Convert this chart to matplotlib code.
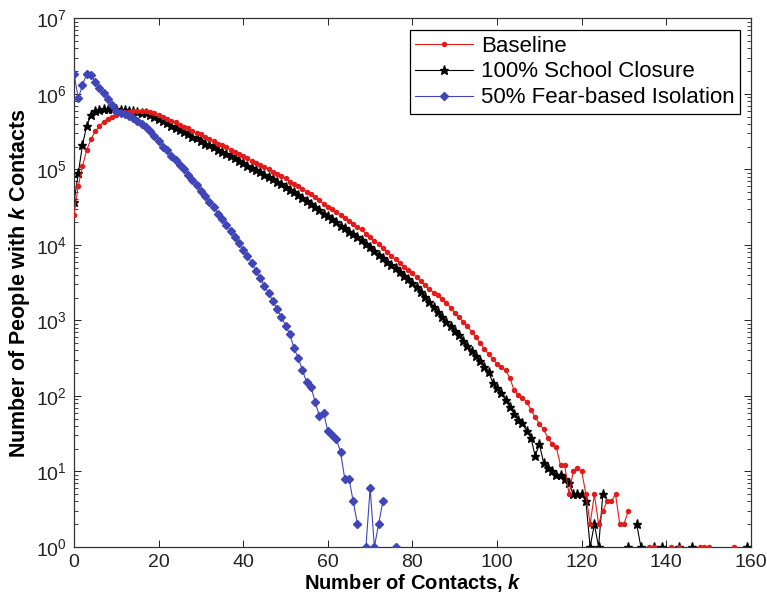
import numpy as np
import matplotlib
matplotlib.use("Agg")
import matplotlib.pyplot as plt
from matplotlib.ticker import LogLocator, NullFormatter

plt.rcParams['font.family'] = ['Liberation Sans', 'DejaVu Sans']
plt.rcParams['mathtext.fontset'] = 'custom'
plt.rcParams['mathtext.rm'] = 'Liberation Sans'
plt.rcParams['mathtext.it'] = 'Liberation Sans:italic:bold'
plt.rcParams['mathtext.bf'] = 'Liberation Sans:bold'

# ---- data: number of people with k contacts (0 = nobody, not drawn on log axis)
baseline_k = list(range(0, 157))
baseline = [
    2.5e4, 6.0e4, 1.1e5, 1.8e5, 2.5e5, 3.2e5, 3.7e5, 4.3e5, 4.7e5, 5.0e5,
    5.2e5, 5.5e5, 5.7e5, 5.8e5, 5.9e5, 6.0e5, 6.0e5, 5.9e5, 5.75e5, 5.5e5,
    5.25e5, 4.9e5, 4.7e5, 4.4e5, 4.2e5, 3.9e5, 3.6e5, 3.5e5, 3.2e5, 3.0e5,
    2.9e5, 2.7e5, 2.5e5, 2.4e5, 2.2e5, 2.1e5, 1.95e5, 1.8e5, 1.7e5, 1.6e5,
    1.5e5, 1.4e5, 1.3e5, 1.23e5, 1.15e5, 1.07e5, 1.0e5, 9.3e4, 8.7e4, 8.1e4,
    7.6e4, 6.9e4, 6.5e4, 6.0e4, 5.5e4, 5.0e4, 4.7e4, 4.3e4, 3.9e4, 3.5e4,
    3.2e4, 3.0e4, 2.75e4, 2.5e4, 2.3e4, 2.1e4, 1.9e4, 1.74e4, 1.6e4, 1.4e4,
    1.26e4, 1.12e4, 1.02e4, 9100, 8100, 7200, 6500, 5800, 5100, 4600,
    4200, 3700, 3300, 2950, 2630, 2340, 2140, 1900, 1700, 1480,
    1260, 1100, 955, 832, 708, 603, 501, 417, 355, 309,
    263, 240, 219, 174, 120, 102, 95, 83, 66, 52,
    43, 36, 28, 23, 21, 12, 12, 5, 10, 11,
    10, 5, 2, 5, 2, 3, 4, 4, 5, 2,
    2, 3, 0, 0, 0, 0, 1, 1, 0, 0,
    0, 1, 0, 1, 0, 0, 0, 0, 1, 1,
    1, 0, 0, 0, 0, 0, 1,
]

school_k = list(range(0, 160))
school = [
    3.7e4, 8.9e4, 2.1e5, 3.8e5, 5.2e5, 5.9e5, 6.2e5, 6.3e5, 6.3e5, 6.3e5,
    6.3e5, 6.2e5, 6.2e5, 6.0e5, 5.9e5, 5.75e5, 5.6e5, 5.5e5, 5.25e5, 5.0e5,
    4.7e5, 4.4e5, 4.1e5, 3.8e5, 3.55e5, 3.3e5, 3.1e5, 2.9e5, 2.7e5, 2.6e5,
    2.4e5, 2.2e5, 2.1e5, 1.95e5, 1.8e5, 1.7e5, 1.6e5, 1.5e5, 1.4e5, 1.3e5,
    1.2e5, 1.12e5, 1.05e5, 9.8e4, 9.1e4, 8.5e4, 7.9e4, 7.4e4, 6.9e4, 6.5e4,
    5.9e4, 5.4e4, 5.0e4, 4.6e4, 4.2e4, 3.8e4, 3.5e4, 3.2e4, 2.9e4, 2.6e4,
    2.4e4, 2.2e4, 2.0e4, 1.8e4, 1.66e4, 1.5e4, 1.38e4, 1.26e4, 1.15e4, 1.02e4,
    9300, 8300, 7400, 6800, 6000, 5400, 4900, 4400, 3900, 3500,
    3100, 2750, 2400, 2040, 1740, 1510, 1290, 1120, 955, 832,
    724, 631, 537, 457, 398, 339, 288, 245, 209, 148,
    126, 110, 89, 71, 58, 48, 44, 34, 28, 16,
    23, 13, 11, 10, 9, 9, 8, 7, 5, 5,
    5, 4, 1, 2, 1, 5, 0, 0, 0, 0,
    0, 1, 0, 2, 1, 0, 0, 1, 0, 1,
    0, 0, 0, 1, 0, 0, 1, 0, 0, 0,
    0, 0, 0, 0, 0, 0, 0, 0, 0, 1,
]

fear_k = list(range(0, 77))
fear = [
    1.86e6, 8.7e5, 1.32e6, 1.82e6, 1.78e6, 1.45e6, 1.2e6, 1.02e6, 8.5e5, 7.1e5,
    6.0e5, 5.6e5, 5.4e5, 5.1e5, 4.8e5, 4.4e5, 4.0e5, 3.6e5, 3.2e5, 2.8e5,
    2.4e5, 2.0e5, 1.78e5, 1.5e5, 1.32e5, 1.15e5, 1.0e5, 8.5e4, 7.2e4, 6.2e4,
    5.2e4, 4.4e4, 3.7e4, 3.2e4, 2.6e4, 2.2e4, 1.86e4, 1.55e4, 1.26e4, 1.05e4,
    8500, 7100, 5750, 4570, 3630, 2880, 2290, 1820, 1410, 1120,
    851, 661, 427, 316, 219, 151, 132, 83, 54, 60,
    34, 30, 27, 18, 8, 8, 4, 2, 0, 1,
    6, 1, 2, 4, 0, 0, 1,
]

series_labels = ['Baseline', '100% School Closure', '50% Fear-based Isolation']
x_ticks = [0, 20, 40, 60, 80, 100, 120, 140, 160]


def positive(v):
    v = np.asarray(v, dtype=float)
    return np.where(v > 0, v, np.nan)


fig = plt.figure(figsize=(7.67, 6.02), dpi=100)
ax = fig.add_axes([0.0965, 0.0915, 0.8825, 0.878])

red = '#e31b1b'
blue = '#4046b8'
ax.plot(baseline_k, positive(baseline), '-o', color=red, lw=0.8,
        ms=2.9, mec=red, mfc=red, label=series_labels[0], zorder=3)
ax.plot(school_k, positive(school), '-*', color='black', lw=0.8,
        ms=6.5, mec='black', mfc='black', label=series_labels[1], zorder=2)
ax.plot(fear_k, positive(fear), '-D', color=blue, lw=0.8,
        ms=3.8, mec=blue, mfc=blue, label=series_labels[2], zorder=4)

ax.set_yscale('log')
ax.set_xlim(0, 160)
ax.set_ylim(1, 1e7)
ax.set_xticks(x_ticks)
ax.yaxis.set_major_locator(LogLocator(base=10, numticks=10))
ax.yaxis.set_minor_locator(LogLocator(base=10, subs=np.arange(2, 10), numticks=12))
ax.yaxis.set_minor_formatter(NullFormatter())

ax.tick_params(axis='both', which='both', direction='in', top=True, right=True,
               labelsize=14, colors='#222222')
ax.tick_params(axis='x', pad=5)
ax.tick_params(axis='y', pad=5)
ax.tick_params(which='major', length=5, width=0.7)
ax.tick_params(which='minor', length=3, width=0.6)
for s in ax.spines.values():
    s.set_linewidth(0.9)
    s.set_color('#333333')

ax.set_xlabel('Number of Contacts, $k$', fontsize=14.5, fontweight='bold', labelpad=1)
ax.set_ylabel('Number of People with $k$ Contacts', fontsize=15.5, fontweight='bold', labelpad=3)

leg = ax.legend(loc='upper right', fontsize=16, frameon=True, fancybox=False,
                edgecolor='black', framealpha=1, handlelength=2.6,
                borderpad=0.25, labelspacing=0.22, handletextpad=0.35,
                borderaxespad=0, bbox_to_anchor=(0.984, 0.978))
leg.get_frame().set_linewidth(0.9)

fig.savefig('out.png', dpi=100)
